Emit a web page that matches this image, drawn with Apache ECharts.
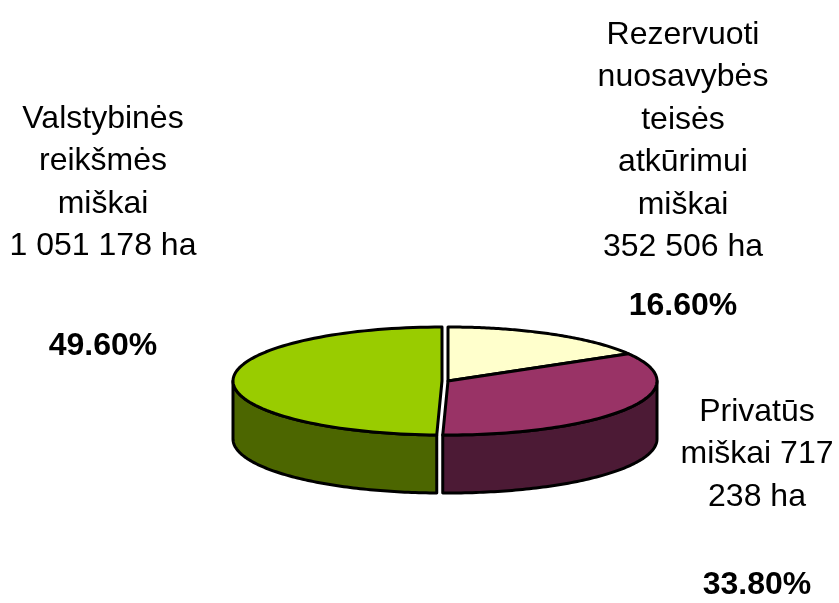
<!DOCTYPE html>
<html>
<head>
<meta charset="utf-8">
<script src="https://cdn.jsdelivr.net/npm/echarts@6/dist/echarts.min.js"></script>
<style>
  html, body { margin: 0; padding: 0; background: #fff; }
  #chart { width: 839px; height: 603px; }
</style>
</head>
<body>
<div id="chart"></div>
<script>
// slices, clockwise from 12 o'clock
const names = ['Rezervuoti nuosavybės teisės atkūrimui miškai', 'Privatūs miškai', 'Valstybinės reikšmės miškai'];
const hectares = [352506, 717238, 1051178];
const shares = [16.6, 33.8, 49.6];
const shareLabels = ['16.60%', '33.80%', '49.60%'];
// label text as wrapped in the original
const labelLines = [
  ['Rezervuoti', 'nuosavybės', 'teisės', 'atkūrimui', 'miškai', '352 506 ha'],
  ['Privatūs', 'miškai 717', '238 ha'],
  ['Valstybinės', 'reikšmės', 'miškai', '1 051 178 ha']
];

const topColors = ['#FFFFCC', '#993366', '#99CC00'];
const sideColors = ['#80806A', '#4C1A35', '#4C6600'];
const explodeX = [0, 0, -6];

const CX = 448, CY = 381, RX = 209, RY = 54, DEPTH = 58;
const total = shares.reduce((a, b) => a + b, 0);

function renderSlice(params, api) {
  const i = params.dataIndex;
  let before = 0;
  for (let k = 0; k < i; k++) before += shares[k];
  const a0 = before / total * Math.PI * 2;
  const a1 = (before + api.value(0)) / total * Math.PI * 2;
  const ox = CX + explodeX[i];
  const pt = (a, dy) => [ox + RX * Math.sin(a), CY - RY * Math.cos(a) + (dy || 0)];
  const N = 90;
  const children = [];
  const line = { stroke: '#000', lineWidth: 3, lineJoin: 'round' };

  // front wall
  const s0 = Math.max(a0, Math.PI / 2), s1 = Math.min(a1, Math.PI * 1.5);
  if (s1 > s0) {
    const side = [];
    for (let s = 0; s <= N; s++) side.push(pt(s0 + (s1 - s0) * s / N));
    for (let s = N; s >= 0; s--) side.push(pt(s0 + (s1 - s0) * s / N, DEPTH));
    children.push({ type: 'polygon', shape: { points: side }, style: Object.assign({ fill: sideColors[i] }, line) });
  }
  // top face
  const top = [[ox, CY]];
  for (let s = 0; s <= N; s++) top.push(pt(a0 + (a1 - a0) * s / N));
  children.push({ type: 'polygon', shape: { points: top }, style: Object.assign({ fill: topColors[i] }, line) });
  return { type: 'group', children };
}

// label layout: centre x, middle of first line, middle of percent line
const labelPos = [[683, 35, 306], [757, 412, 585], [103, 119, 346]];
const LH = 42.5;
const font = '32px "Liberation Sans", Arial, sans-serif';
const graphics = [];
labelLines.forEach((lines, i) => {
  const p = labelPos[i];
  graphics.push({
    type: 'text', x: p[0], y: p[1] - LH / 2,
    style: { text: lines.join('\n'), font: font, fill: '#000', align: 'center', verticalAlign: 'top', lineHeight: LH }
  });
  graphics.push({
    type: 'text', x: p[0], y: p[2],
    style: { text: shareLabels[i], font: 'bold ' + font, fill: '#000', align: 'center', verticalAlign: 'middle' }
  });
});

const chart = echarts.init(document.getElementById('chart'));
chart.setOption({
  backgroundColor: '#fff',
  animation: false,
  graphic: graphics,
  series: [{
    type: 'custom',
    coordinateSystem: 'none',
    renderItem: renderSlice,
    data: shares.map((v, i) => ({ name: names[i], value: [v, hectares[i]] }))
  }]
});
</script>
</body>
</html>
